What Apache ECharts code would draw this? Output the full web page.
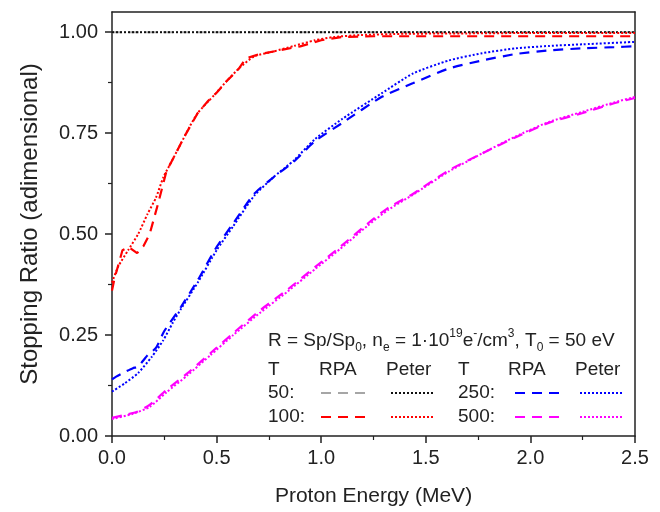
<!DOCTYPE html>
<html>
<head>
<meta charset="utf-8">
<script src="https://cdn.jsdelivr.net/npm/echarts@6/dist/echarts.min.js"></script>
<style>html,body{margin:0;padding:0;background:#fff;}#c{width:660px;height:512px;}</style>
</head>
<body>
<div id="c"></div>
<script>
// ---- data ----
const xTicks = [0, 0.5, 1.0, 1.5, 2.0, 2.5];
const yTicks = [0, 0.25, 0.5, 0.75, 1.0];

const E_T50 = [0, 2.5];
const R_T50_RPA = [1.0, 1.0];
const R_T50_Peter = [1.0, 1.0];

const E_T100_RPA = [0, 0.012, 0.05, 0.08, 0.12, 0.15, 0.18, 0.22, 0.26, 0.30, 0.35, 0.41, 0.46, 0.50, 0.55, 0.60, 0.64, 0.70, 0.80, 0.90, 1.00, 1.10, 1.25, 1.5, 2.0, 2.5];
const R_T100_RPA = [0.36, 0.39, 0.46, 0.468, 0.453, 0.47, 0.50, 0.575, 0.655, 0.695, 0.745, 0.80, 0.83, 0.85, 0.88, 0.905, 0.935, 0.945, 0.955, 0.965, 0.98, 0.988, 0.99, 0.99, 0.99, 0.99];

const E_T100_Peter = [0, 0.03, 0.077, 0.125, 0.17, 0.21, 0.245, 0.29, 0.33, 0.37, 0.41, 0.49, 0.55, 0.61, 0.68, 0.77, 0.87, 0.97, 1.06, 1.19, 1.4, 1.7, 2.0, 2.5];
const R_T100_Peter = [0.38, 0.42, 0.46, 0.50, 0.55, 0.59, 0.64, 0.685, 0.725, 0.765, 0.80, 0.845, 0.88, 0.912, 0.94, 0.952, 0.966, 0.98, 0.988, 0.993, 0.996, 0.997, 0.998, 0.998];

const E_T250_RPA = [0, 0.02, 0.06, 0.1, 0.125, 0.17, 0.21, 0.25, 0.33, 0.41, 0.50, 0.58, 0.68, 0.77, 0.87, 0.97, 1.1, 1.29, 1.44, 1.61, 1.77, 1.93, 2.09, 2.25, 2.4, 2.5];
const R_T250_RPA = [0.14, 0.147, 0.158, 0.168, 0.172, 0.20, 0.218, 0.26, 0.32, 0.386, 0.468, 0.527, 0.60, 0.64, 0.68, 0.73, 0.775, 0.84, 0.874, 0.91, 0.93, 0.946, 0.955, 0.96, 0.963, 0.965];

const E_T250_Peter = [0, 0.06, 0.125, 0.19, 0.245, 0.29, 0.33, 0.41, 0.50, 0.58, 0.68, 0.77, 0.87, 0.97, 1.1, 1.29, 1.44, 1.61, 1.77, 1.93, 2.09, 2.25, 2.5];
const R_T250_Peter = [0.11, 0.13, 0.156, 0.196, 0.237, 0.28, 0.315, 0.38, 0.46, 0.52, 0.595, 0.64, 0.683, 0.735, 0.785, 0.849, 0.898, 0.93, 0.948, 0.96, 0.966, 0.97, 0.976];

const E_T500_RPA = [0, 0.06, 0.12, 0.18, 0.26, 0.36, 0.47, 0.58, 0.71, 0.84, 0.97, 1.09, 1.22, 1.32, 1.44, 1.61, 1.77, 1.93, 2.09, 2.25, 2.4, 2.5];
const R_T500_RPA = [0.045, 0.052, 0.06, 0.077, 0.114, 0.155, 0.205, 0.255, 0.312, 0.363, 0.418, 0.468, 0.525, 0.565, 0.60, 0.658, 0.70, 0.74, 0.776, 0.80, 0.824, 0.837];

const E_T500_Peter = [0, 0.1, 0.18, 0.26, 0.36, 0.47, 0.58, 0.71, 0.84, 0.97, 1.09, 1.22, 1.32, 1.44, 1.61, 1.77, 1.93, 2.09, 2.25, 2.4, 2.5];
const R_T500_Peter = [0.042, 0.055, 0.072, 0.108, 0.15, 0.20, 0.25, 0.306, 0.358, 0.413, 0.463, 0.52, 0.56, 0.598, 0.655, 0.70, 0.742, 0.778, 0.803, 0.826, 0.84];

// ---- chart ----
const FONT = '"Liberation Sans", Arial, sans-serif';
const TXT = '#222';
const zip = (xs, ys) => xs.map((x, i) => [x, ys[i]]);
const DASH = [10, 7];
const DOT = [2, 2];

function line(name, xs, ys, color, dash, width, smooth) {
  return {
    name: name, type: 'line', data: zip(xs, ys), showSymbol: false, symbol: 'none',
    smooth: smooth, animation: false, clip: true,
    lineStyle: { color: color, width: width, type: dash }
  };
}

const chart = echarts.init(document.getElementById('c'), null, { renderer: 'canvas' });

const legendY1 = 393, legendY2 = 417;
function lgLine(x1, x2, y, color, dash) {
  return { type: 'line', shape: { x1: x1, y1: y, x2: x2, y2: y }, style: { stroke: color, lineWidth: 2, lineDash: dash }, z: 100 };
}
function lgText(x, y, t) {
  return { type: 'text', x: x, y: y, style: { text: t, fill: TXT, font: '19px ' + FONT, verticalAlign: 'middle', align: 'left' }, z: 100 };
}

const option = {
  backgroundColor: '#fff',
  animation: false,
  grid: { left: 112, right: 25, top: 12, bottom: 76, containLabel: false },
  xAxis: [{
    type: 'value', min: 0, max: 2.5, interval: 0.5,
    name: 'Proton Energy (MeV)', nameLocation: 'middle', nameGap: 50,
    nameTextStyle: { fontSize: 21, fontFamily: FONT, color: TXT },
    axisLine: { show: true, onZero: false, lineStyle: { color: '#222', width: 1.5 } },
    axisTick: { show: true, inside: false, length: 7, lineStyle: { color: '#222', width: 1.5 } },
    minorTick: { show: true, splitNumber: 2, length: 4, lineStyle: { color: '#222', width: 1.2 } },
    axisLabel: { fontSize: 20, fontFamily: FONT, color: TXT, margin: 12, formatter: v => v.toFixed(1) },
    splitLine: { show: false }
  }, {
    type: 'value', min: 0, max: 2.5, position: 'top',
    axisLine: { show: true, onZero: false, lineStyle: { color: '#222', width: 1.5 } },
    axisTick: { show: false }, axisLabel: { show: false }, splitLine: { show: false }
  }],
  yAxis: [{
    type: 'value', min: 0, max: 1.05, interval: 0.25,
    name: 'Stopping Ratio (adimensional)', nameLocation: 'middle', nameGap: 70,
    nameTextStyle: { fontSize: 24, fontFamily: FONT, color: TXT },
    axisLine: { show: true, onZero: false, lineStyle: { color: '#222', width: 1.5 } },
    axisTick: { show: true, inside: false, length: 7, customValues: yTicks, lineStyle: { color: '#222', width: 1.5 } },
    minorTick: { show: true, splitNumber: 2, length: 4, lineStyle: { color: '#222', width: 1.2 } },
    axisLabel: { fontSize: 20, fontFamily: FONT, color: TXT, margin: 14, customValues: yTicks, formatter: v => v.toFixed(2) },
    splitLine: { show: false }
  }, {
    type: 'value', min: 0, max: 1.05, position: 'right',
    axisLine: { show: true, onZero: false, lineStyle: { color: '#222', width: 1.5 } },
    axisTick: { show: false }, axisLabel: { show: false }, splitLine: { show: false }
  }],
  series: [
    line('T50 RPA', E_T50, R_T50_RPA, '#a6a6a6', DASH, 2, false),
    line('T50 Peter', E_T50, R_T50_Peter, '#111', DOT, 2, false),
    line('T100 RPA', E_T100_RPA, R_T100_RPA, '#ff0000', DASH, 2.2, false),
    line('T100 Peter', E_T100_Peter, R_T100_Peter, '#ff0000', DOT, 2, 0.2),
    line('T250 RPA', E_T250_RPA, R_T250_RPA, '#0000ff', DASH, 2.2, 0.2),
    line('T250 Peter', E_T250_Peter, R_T250_Peter, '#0000ff', DOT, 2, 0.2),
    line('T500 RPA', E_T500_RPA, R_T500_RPA, '#ff00ff', DASH, 2.2, 0.2),
    line('T500 Peter', E_T500_Peter, R_T500_Peter, '#ff00ff', DOT, 2, 0.2)
  ],
  graphic: [
    {
      type: 'text', x: 268, y: 341, z: 100,
      style: {
        text: '{a|R = Sp/Sp}{b|0}{a|, n}{b|e}{a| = 1·10}{c|19}{a|e}{c|-}{a|/cm}{c|3}{a|, T}{b|0}{a| = 50 eV}',
        verticalAlign: 'middle', align: 'left', fill: TXT,
        rich: {
          a: { fontSize: 19, fontFamily: FONT, fill: TXT, lineHeight: 26, verticalAlign: 'middle' },
          b: { fontSize: 12, fontFamily: FONT, fill: TXT, lineHeight: 13, verticalAlign: 'bottom' },
          c: { fontSize: 12, fontFamily: FONT, fill: TXT, lineHeight: 13, verticalAlign: 'top' }
        }
      }
    },
    lgText(268, 370, 'T'), lgText(319, 370, 'RPA'), lgText(386, 370, 'Peter'),
    lgText(458, 370, 'T'), lgText(508, 370, 'RPA'), lgText(575, 370, 'Peter'),
    lgText(268, legendY1, '50:'), lgText(268, legendY2, '100:'),
    lgText(458, legendY1, '250:'), lgText(458, legendY2, '500:'),
    lgLine(321, 367, legendY1, '#a6a6a6', DASH), lgLine(391, 433, legendY1, '#111', DOT),
    lgLine(321, 367, legendY2, '#ff0000', DASH), lgLine(391, 433, legendY2, '#ff0000', DOT),
    lgLine(515, 562, legendY1, '#0000ff', DASH), lgLine(580, 623, legendY1, '#0000ff', DOT),
    lgLine(515, 562, legendY2, '#ff00ff', DASH), lgLine(580, 623, legendY2, '#ff00ff', DOT)
  ]
};
chart.setOption(option);
</script>
</body>
</html>
